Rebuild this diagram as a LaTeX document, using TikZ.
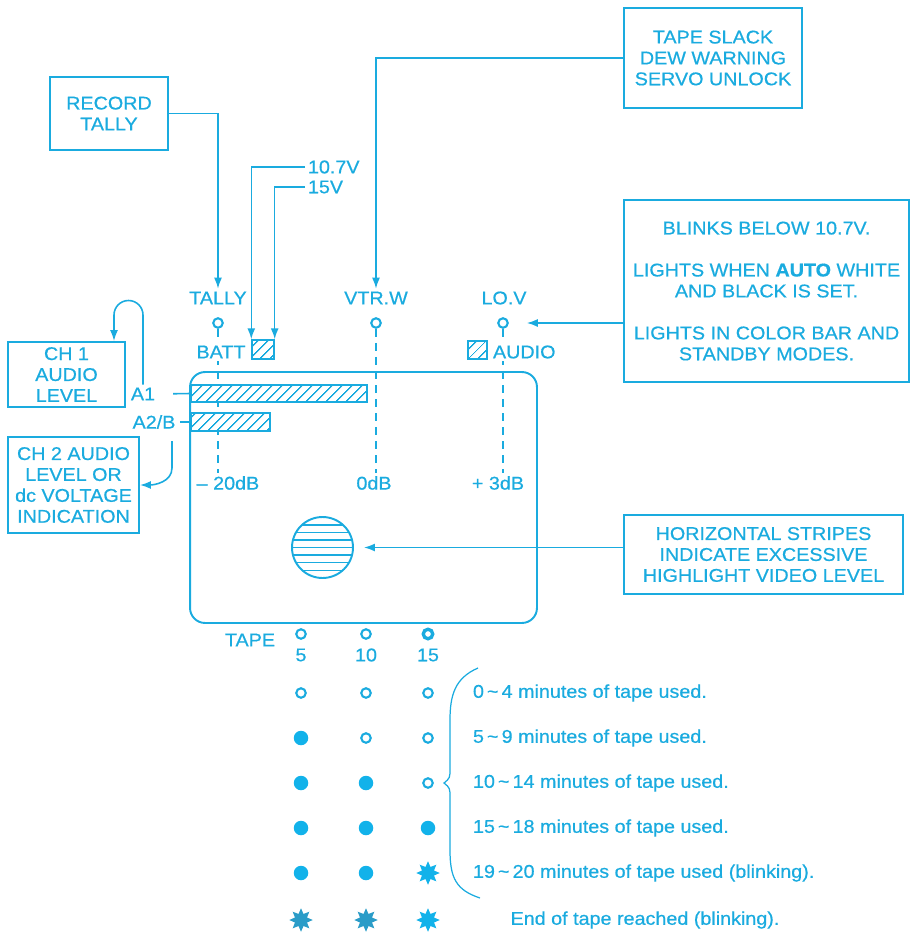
\documentclass[tikz,border=0pt]{standalone}
\usepackage{fontspec}
\setmainfont{Liberation Sans}[FakeStretch=1.07, FakeBold=0.6]
\usepackage{tikz}
\usetikzlibrary{positioning,arrows.meta,shapes.geometric,patterns.meta}
\definecolor{ink}{HTML}{1AABDF}
\definecolor{lit}{HTML}{12B2EA}
\definecolor{dimlit}{HTML}{2A9CC8}
\tikzset{
  note/.style={draw=ink, line width=1.1pt, align=center, inner sep=2pt},
  lbl/.style ={text=ink, inner sep=1.5pt},
  lamp/.style={circle, draw=ink, line width=1.2pt, minimum size=0.19cm, inner sep=0pt},
  lampon/.style={circle, fill=lit, minimum size=0.29cm, inner sep=0pt},
  lampblink/.style={star, star points=8, star point ratio=1.8, fill=lit, minimum size=0.47cm, inner sep=0pt},
  hatch/.style={draw=ink, line width=0.9pt, preaction={fill=white},
    pattern={Lines[angle=45,distance=4pt,line width=0.8pt]}, pattern color=ink, inner sep=0pt},
  conn/.style={ink, line width=0.9pt},
  arr/.style ={-{Latex[length=2.2mm,width=1.6mm]}, ink, line width=0.9pt},
  dbline/.style={ink, line width=0.9pt, dash pattern=on 4.5pt off 3.5pt},
}

\begin{document}
\begin{tikzpicture}[x=0.02cm, y=-0.02cm, font=\fontsize{10.5}{11.9}\selectfont, text=ink]
  \useasboundingbox (0,0) rectangle (911,936);

  % call-out boxes
  \node[note, minimum width=2.36cm, minimum height=1.46cm] (rec)    at (109,113.5) {RECORD\\TALLY};
  \node[note, minimum width=3.56cm, minimum height=2.0cm]  (slack)  at (713,58)  {TAPE SLACK\\DEW WARNING\\SERVO UNLOCK};
  \node[note, minimum width=5.7cm,  minimum height=3.64cm] (blinks) at (766.5,291)
    {BLINKS BELOW 10.7V.\\[12pt]LIGHTS WHEN \textbf{AUTO} WHITE\\AND BLACK IS SET.\\[12pt]LIGHTS IN COLOR BAR AND\\STANDBY MODES.};
  \node[note, minimum width=5.58cm, minimum height=1.58cm] (hstripe) at (763.5,554.5)
    {HORIZONTAL STRIPES\\INDICATE EXCESSIVE\\HIGHLIGHT VIDEO LEVEL};
  \node[note, minimum width=2.34cm, minimum height=1.3cm]  (ch1) at (66.5,374.5) {CH 1\\AUDIO\\LEVEL};
  \node[note, minimum width=2.62cm, minimum height=1.92cm] (ch2) at (73.5,485) {CH 2 AUDIO\\LEVEL OR\\dc VOLTAGE\\INDICATION};

  % viewfinder
  \node[draw=ink, line width=1.1pt, rounded corners=0.3cm, minimum width=6.94cm, minimum height=5.02cm] (vf) at (363.5,497.5) {};

  % indicators above the screen
  \node[lbl] (tally) at (218,298) {TALLY};
  \node[lbl] (vtrw)  at (376,298) {VTR.W};
  \node[lbl] (lov)   at (504,298) {LO.V};
  \node[lamp] (tl) at (218,323) {};
  \node[lamp] (vl) at (376,323) {};
  \node[lamp] (ll) at (503,323) {};
  \node[lbl] (db20) at (228,483) {– 20dB};
  \node[lbl] (db0)  at (374,483) {0dB};
  \node[lbl] (db3)  at (498,483) {+ 3dB};
  \draw[dbline] (tl.south) -- (tl |- db20.north);
  \draw[dbline] (vl.south) -- (vl |- db0.north);
  \draw[dbline] (ll.south) -- (ll |- db3.north);

  \node[lbl, fill=white] (batt) at (221,352) {BATT};
  \node[hatch, minimum width=0.44cm, minimum height=0.38cm] (battbox) at (263,349.5) {};
  \node[lbl, anchor=west] (v107) at (305,167) {10.7V};
  \node[lbl, anchor=west] (v15)  at (305,187) {15V};
  \node[hatch, minimum width=0.38cm, minimum height=0.36cm] (audbox) at (477.5,350) {};
  \node[lbl, fill=white, anchor=west] (audio) at (490,352) {AUDIO};

  % level bars
  \node[hatch, minimum width=3.52cm, minimum height=0.34cm] (a1bar) at (279,393.5) {};
  \node[hatch, minimum width=1.58cm, minimum height=0.36cm] (a2bar) at (230.5,422) {};
  \node[lbl] (a1)  at (143,394) {A1};
  \node[lbl] (a2b) at (154,422) {A2/B};
  \draw[conn, shorten <=0.3cm] (a1.east) -- (a1bar.west);
  \draw[conn, shorten <=0.04cm] (a2b.east) -- (a2bar.west);

  % highlight ball
  \node[circle, draw=ink, line width=1.1pt, minimum size=1.22cm, inner sep=0pt,
    path picture={\foreach \k in {-3,...,3}
      \draw[ink, line width=0.9pt] ([yshift=\k*0.152cm]path picture bounding box.west) -- ([yshift=\k*0.152cm]path picture bounding box.east);}]
    (ball) at (322.5,547.5) {};

  % leaders
  \draw[arr] (rec.east) -| (tally.north);
  \draw[arr] (v107.west) -| (battbox.north west);
  \draw[arr] (v15.west) -| (battbox.north east);
  \draw[arr] (slack.west) -| (vtrw.north);
  \draw[arr, shorten >=0.36cm] (blinks.west |- ll) -- (ll.east);
  \draw[arr, shorten >=0.2cm] (ball -| hstripe.west) -- (ball.east);
  \coordinate (loopL) at (114,315);
  \draw[arr] (a1.north) -- (143,315) arc[start angle=0, end angle=180, radius=0.29cm] -- (loopL |- ch1.north);
  \coordinate (a2q) at (172,441);
  \draw[arr] (a2q) -- (172,468) to[out=-90, in=0] (ch2.east);

  % tape remaining lamps
  \node[lbl] (tape) at (250,640) {TAPE};
  \node[lamp] (t5)  at (301,634) {};
  \node[lamp] (t10) at (366,634) {};
  \node[lamp, line width=1.9pt] (t15) at (428,634) {};
  \node[lbl] (n5)  at (301,655) {5};
  \node[lbl] (n10) at (366,655) {10};
  \node[lbl] (n15) at (428,655) {15};

  \foreach \y/\a/\b/\c/\t in {
      693/lamp/lamp/lamp/{0\,\textasciitilde\,4 minutes of tape used.},
      738/lampon/lamp/lamp/{5\,\textasciitilde\,9 minutes of tape used.},
      783/lampon/lampon/lamp/{10\,\textasciitilde\,14 minutes of tape used.},
      828/lampon/lampon/lampon/{15\,\textasciitilde\,18 minutes of tape used.},
      873/lampon/lampon/lampblink/{19\,\textasciitilde\,20 minutes of tape used (blinking).}} {
    \node[\a] (p\y-1) at (301,\y) {};
    \node[\b] (p\y-2) at (366,\y) {};
    \node[\c] (p\y-3) at (428,\y) {};
    \node[lbl, anchor=west] (s\y) at (470,\y) {\t};
  }
  \node[lampblink, fill=dimlit] (e1) at (301,920) {};
  \node[lampblink, fill=dimlit] (e2) at (366,920) {};
  \node[lampblink] (e3) at (428,920) {};
  \node[lbl] (eot) at (645,920) {End of tape reached (blinking).};

  \draw[ink, line width=0.7pt] (478,668) .. controls (455,678) and (450,695) .. (450,720) -- (450,768)
    .. controls (450,778) .. (444,783) .. controls (450,788) .. (450,798) -- (450,850)
    .. controls (450,878) and (456,890) .. (480,898);
\end{tikzpicture}
\end{document}
